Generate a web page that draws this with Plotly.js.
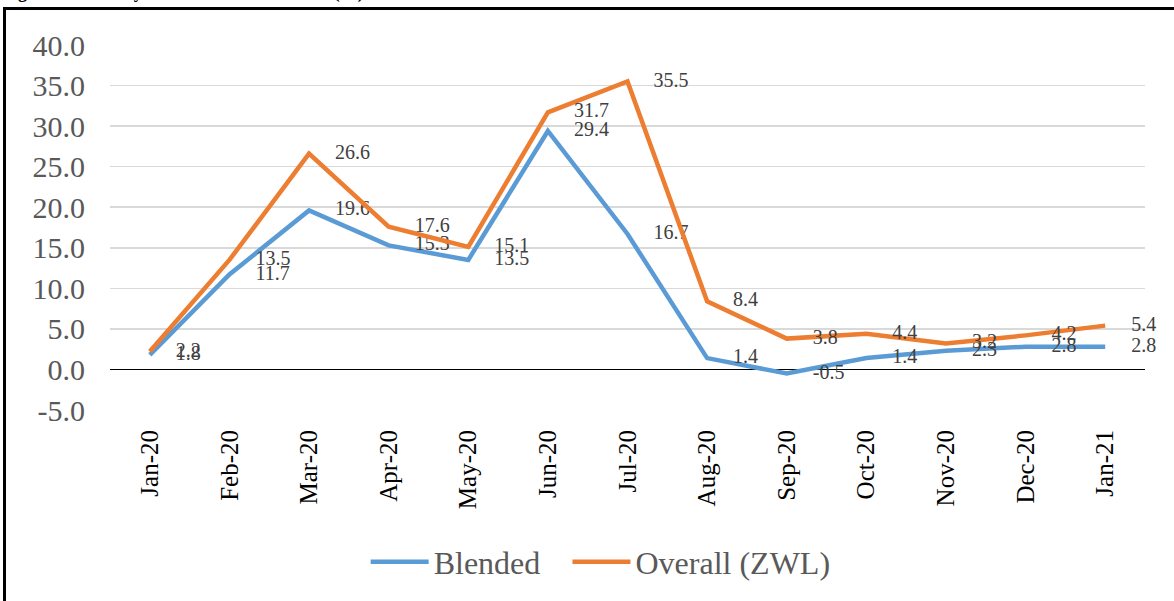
<!DOCTYPE html>
<html>
<head>
<meta charset="utf-8">
<script src="https://cdn.plot.ly/plotly-3.0.1.min.js"></script>
<style>
  html, body { margin:0; padding:0; background:#fff; overflow:hidden; }
  #wrap { position:relative; width:1174px; height:601px; overflow:hidden; background:#fff; }
  #frame { position:absolute; left:3px; top:7px; width:1220px; height:640px; border:3px solid #000; box-sizing:border-box; }
  #title { position:absolute; left:2px; top:-17px; font-family:"Liberation Serif", serif; font-weight:bold; font-size:18px; line-height:18px; white-space:nowrap; }
  #chart { position:absolute; left:0; top:0; width:1174px; height:601px; }
</style>
</head>
<body>
<div id="wrap">
  <div id="title">Figure 2: Monthly Blended Inflation Rates (%)</div>
  <div id="frame"></div>
  <div id="chart"></div>
</div>
<script>
const months = ['Jan-20','Feb-20','Mar-20','Apr-20','May-20','Jun-20','Jul-20',
                'Aug-20','Sep-20','Oct-20','Nov-20','Dec-20','Jan-21'];
const blended = [1.8, 11.7, 19.6, 15.3, 13.5, 29.4, 16.7, 1.4, -0.5, 1.4, 2.3, 2.8, 2.8];
const overall = [2.2, 13.5, 26.6, 17.6, 15.1, 31.7, 35.5, 8.4, 3.8, 4.4, 3.2, 4.2, 5.4];
const yTicks = [-5, 0, 5, 10, 15, 20, 25, 30, 35, 40];
const yTickText = yTicks.map(v => v.toFixed(1));

const serif = 'Liberation Serif, Times New Roman, serif';

function series(name, values, color, legendId) {
  return {
    x: months, y: values, name: name, legend: legendId,
    type: 'scatter', mode: 'lines+markers+text',
    line: { color: color, width: 4.5 },
    marker: { size: 40, color: 'rgba(0,0,0,0)' },
    text: values.map(v => v.toFixed(1)),
    textposition: 'middle right',
    textfont: { family: serif, size: 20, color: '#404040' },
    cliponaxis: false,
    hoverinfo: 'x+y'
  };
}

const traces = [
  series('Blended', blended, '#5B9BD5', 'legend'),
  series('Overall (ZWL)', overall, '#ED7D31', 'legend2')
];

// one legend box per series, so the gap between the two entries can be set
const legendStyle = (x) => ({
  orientation: 'h', x: x, xanchor: 'left', y: -0.416, yanchor: 'middle',
  font: { family: serif, size: 32, color: '#595959' },
  itemwidth: 58, bgcolor: 'rgba(0,0,0,0)'
});

const layout = {
  width: 1174, height: 601,
  margin: { l: 110, r: 29, t: 45, b: 191 },
  paper_bgcolor: 'rgba(0,0,0,0)',
  plot_bgcolor: 'rgba(0,0,0,0)',
  font: { family: serif, color: '#595959' },
  showlegend: true,
  legend: legendStyle(0.247),
  legend2: legendStyle(0.442),
  xaxis: {
    type: 'category',
    range: [-0.5, months.length - 0.5],
    tickangle: -90,
    tickfont: { family: serif, size: 25, color: '#000' },
    ticklabelstandoff: 14,
    showgrid: false, showline: false, ticks: '',
    fixedrange: true
  },
  yaxis: {
    range: [-5, 40],
    tickvals: yTicks, ticktext: yTickText,
    tickfont: { family: serif, size: 30, color: '#595959' },
    ticklabelstandoff: 24,
    showgrid: true, gridcolor: '#D9D9D9', gridwidth: 1.5,
    zeroline: true, zerolinecolor: '#000', zerolinewidth: 1.5,
    showline: false, ticks: '',
    fixedrange: true
  }
};

Plotly.newPlot('chart', traces, layout, { staticPlot: true });
</script>
</body>
</html>
